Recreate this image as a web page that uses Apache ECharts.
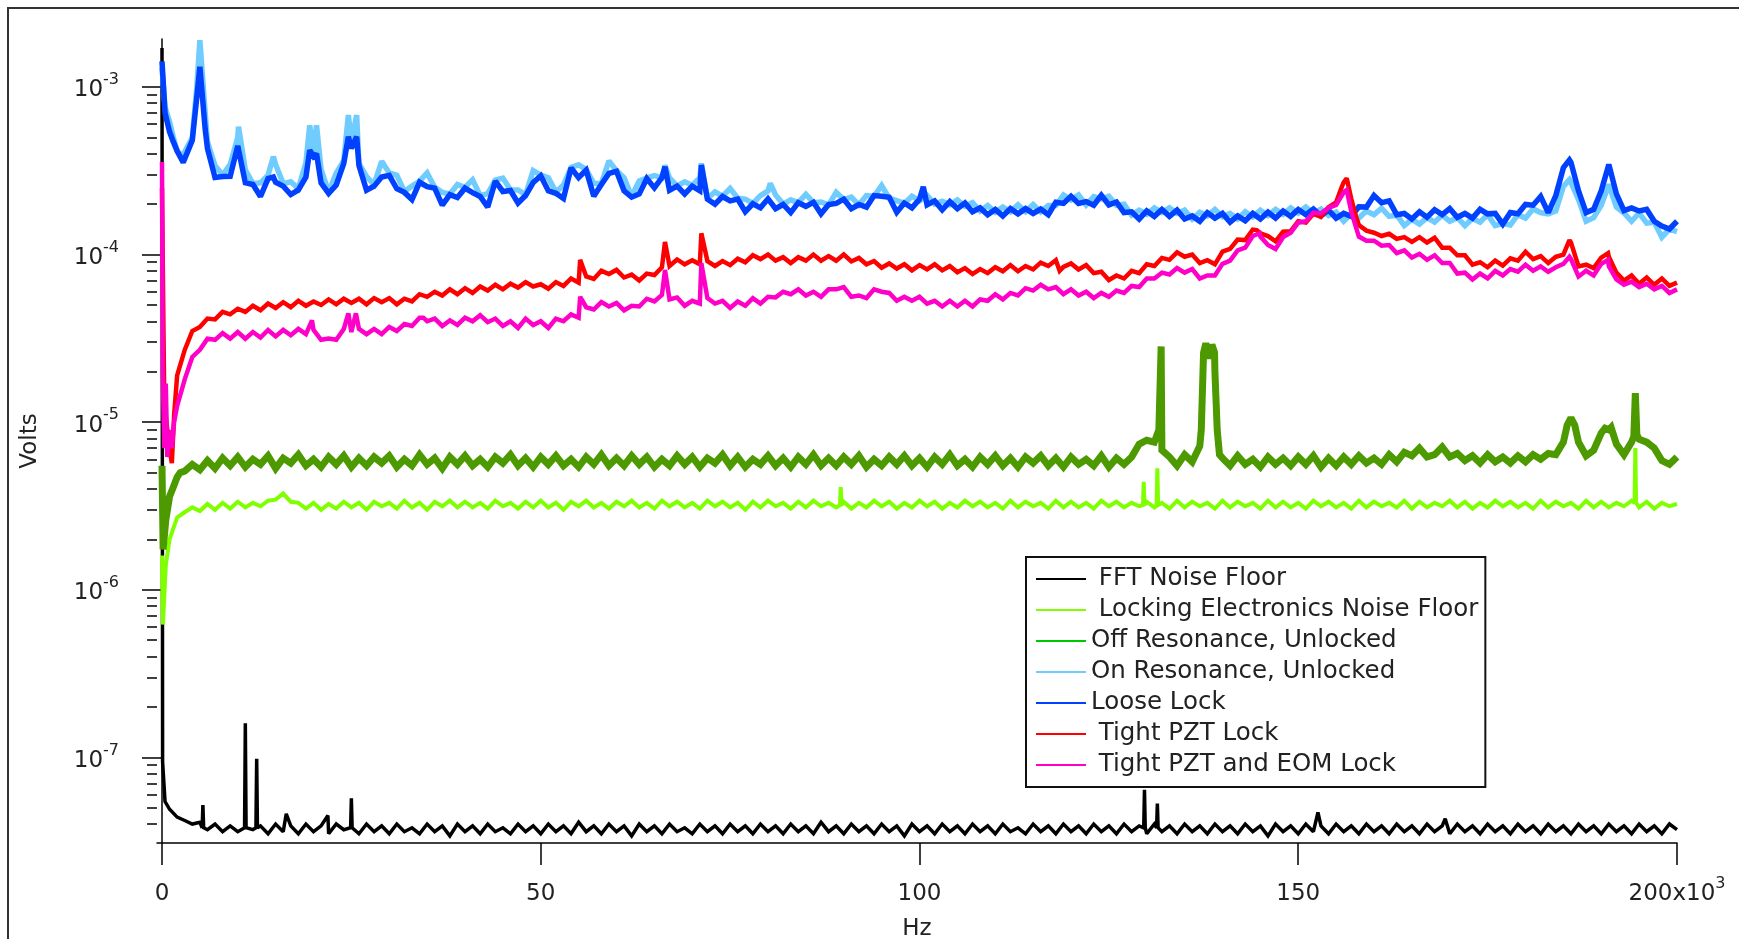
<!DOCTYPE html>
<html>
<head>
<meta charset="utf-8">
<title>Noise spectra</title>
<script src="https://cdn.jsdelivr.net/npm/echarts@6/dist/echarts.min.js"></script>
<style>
  html, body { margin: 0; padding: 0; background: #ffffff; }
  #chart { width: 1739px; height: 939px; }
</style>
</head>
<body>
<div id="chart"></div>
<script>
// Spectra are sampled every 1 kHz (index = kHz); amplitudes in microvolts.
// Narrow features between grid points are listed separately as [kHz, µV].
const GRID_STEP_KHZ = 1;

const traceNames = [
  'FFT Noise Floor',
  'Locking Electronics Noise Floor',
  'Off Resonance, Unlocked',
  'On Resonance, Unlocked',
  'Loose Lock',
  'Tight PZT Lock',
  'Tight PZT and EOM Lock'
];

const fftFloor = [
  1710,0.049,0.044,0.042,0.040,0.041,0.037,0.040,0.036,0.039,
  0.036,0.040,0.037,0.039,0.035,0.040,0.036,0.039,0.035,0.040,
  0.036,0.039,0.035,0.040,0.037,0.039,0.035,0.040,0.036,0.039,
  0.035,0.040,0.036,0.038,0.035,0.040,0.036,0.039,0.034,0.040,
  0.036,0.039,0.035,0.040,0.036,0.038,0.035,0.040,0.036,0.039,
  0.035,0.040,0.036,0.039,0.035,0.041,0.036,0.039,0.035,0.040,
  0.036,0.039,0.034,0.040,0.036,0.039,0.035,0.040,0.036,0.038,
  0.035,0.040,0.036,0.039,0.035,0.040,0.036,0.039,0.035,0.040,
  0.036,0.039,0.035,0.040,0.036,0.039,0.035,0.041,0.036,0.039,
  0.035,0.040,0.036,0.039,0.035,0.040,0.036,0.039,0.034,0.040,
  0.036,0.039,0.035,0.040,0.036,0.039,0.035,0.040,0.036,0.039,
  0.035,0.040,0.036,0.038,0.035,0.040,0.036,0.039,0.035,0.040,
  0.036,0.039,0.035,0.040,0.036,0.039,0.035,0.040,0.036,0.039,
  0.035,0.040,0.036,0.039,0.035,0.040,0.036,0.039,0.035,0.040,
  0.036,0.039,0.035,0.040,0.036,0.039,0.034,0.040,0.036,0.039,
  0.035,0.040,0.036,0.039,0.035,0.040,0.036,0.039,0.035,0.040,
  0.036,0.039,0.035,0.040,0.036,0.039,0.035,0.040,0.036,0.039,
  0.035,0.040,0.036,0.039,0.035,0.040,0.036,0.039,0.035,0.040,
  0.036,0.039,0.035,0.040,0.036,0.039,0.035,0.040,0.036,0.039,
  0.035,0.040,0.036,0.039,0.035,0.040,0.036,0.039,0.035,0.040,
  0.037
];
const fftFloorFine = [
  [0.08,0.094],[0.4,0.0545],[5.3,0.038],[5.4,0.052],[5.5,0.038],
  [10.9,0.038],[11,0.16],[11.1,0.038],[12.4,0.038],[12.5,0.098],[12.6,0.038],
  [16.4,0.046],[21.9,0.045],[24.9,0.038],[25,0.057],[25.1,0.038],
  [129.6,0.038],[129.7,0.064],[129.8,0.038],[131.3,0.038],[131.4,0.053],[131.5,0.038],
  [152.6,0.047],[169.4,0.043]
];

const electronicsFloor = [
  1.6,2.0,2.7,2.9,3.1,2.95,3.25,3.0,3.3,3.05,
  3.35,3.1,3.3,3.15,3.4,3.45,3.75,3.35,3.3,3.05,
  3.3,3.0,3.25,3.05,3.35,3.1,3.3,3.0,3.35,3.15,
  3.3,3.05,3.4,3.1,3.3,3.0,3.35,3.15,3.4,3.1,
  3.35,3.1,3.3,3.05,3.4,3.15,3.3,3.05,3.35,3.1,
  3.4,3.1,3.3,3.0,3.35,3.15,3.4,3.1,3.3,3.05,
  3.35,3.15,3.4,3.1,3.3,3.05,3.4,3.15,3.35,3.1,
  3.3,3.05,3.4,3.15,3.35,3.1,3.3,3.0,3.35,3.1,
  3.4,3.15,3.3,3.05,3.35,3.1,3.4,3.15,3.3,3.1,
  3.35,3.05,3.3,3.1,3.4,3.15,3.35,3.05,3.3,3.1,
  3.4,3.15,3.35,3.05,3.3,3.1,3.4,3.15,3.35,3.1,
  3.3,3.05,3.4,3.1,3.35,3.15,3.3,3.05,3.4,3.1,
  3.35,3.1,3.3,3.05,3.4,3.15,3.35,3.1,3.3,3.15,
  3.35,3.1,3.3,3.05,3.4,3.1,3.35,3.15,3.3,3.05,
  3.4,3.1,3.35,3.15,3.3,3.05,3.4,3.1,3.35,3.1,
  3.3,3.05,3.4,3.15,3.35,3.1,3.3,3.05,3.4,3.1,
  3.35,3.15,3.3,3.1,3.4,3.05,3.35,3.1,3.3,3.15,
  3.4,3.1,3.35,3.05,3.3,3.1,3.4,3.15,3.35,3.1,
  3.3,3.05,3.4,3.1,3.35,3.15,3.3,3.05,3.4,3.1,
  3.35,3.1,3.3,3.15,3.4,3.1,3.35,3.05,3.3,3.15,
  3.25
];
const electronicsFloorFine = [
  [0.12,0.62],[0.5,1.4],[89.5,3.2],[89.6,4.1],[89.7,3.2],
  [129.5,3.2],[129.6,4.4],[129.7,3.2],[131.3,3.2],[131.4,5.3],[131.5,3.2],
  [194.4,3.3],[194.5,7.0],[194.6,3.3]
];

const offResonance = [
  5.5,3.6,4.7,5.1,5.6,5.2,5.9,5.3,6.1,5.5,
  6.2,5.4,6.0,5.6,6.3,5.3,6.1,5.7,6.4,5.5,
  6.0,5.4,6.2,5.6,6.3,5.4,6.1,5.5,6.2,5.7,
  6.3,5.4,6.0,5.5,6.4,5.6,6.1,5.3,6.2,5.6,
  6.3,5.5,6.0,5.4,6.2,5.7,6.4,5.5,6.1,5.4,
  6.2,5.6,6.3,5.5,6.0,5.4,6.2,5.6,6.4,5.5,
  6.1,5.5,6.3,5.6,6.2,5.4,6.0,5.5,6.3,5.6,
  6.2,5.4,6.1,5.7,6.4,5.5,6.2,5.4,6.0,5.6,
  6.3,5.5,6.1,5.4,6.2,5.6,6.4,5.5,6.1,5.5,
  6.2,5.6,6.3,5.4,6.0,5.5,6.2,5.6,6.3,5.5,
  6.1,5.4,6.2,5.6,6.4,5.5,6.0,5.4,6.2,5.6,
  6.3,5.5,6.1,5.4,6.2,5.7,6.3,5.5,6.1,5.4,
  6.2,5.6,6.0,5.5,6.3,5.4,6.1,5.6,6.2,7.4,
  7.8,7.6,6.8,6.2,5.5,6.4,5.8,7.2,27,20,
  6.1,5.5,6.3,5.6,6.0,5.4,6.2,5.6,6.1,5.5,
  6.2,5.6,6.3,5.4,6.1,5.5,6.2,5.6,6.3,5.7,
  6.1,5.6,6.4,5.8,6.6,6.3,7.0,6.2,6.4,7.1,
  6.2,6.5,5.9,6.3,5.7,6.4,5.8,6.2,5.7,6.3,
  5.8,6.4,6.0,6.5,6.4,7.6,10.6,7.6,6.3,6.8,
  8.6,9.0,7.4,6.4,7.6,7.9,7.6,7.0,5.9,5.6,
  6.2
];
const offResonanceFine = [
  [0.15,1.74],[0.5,2.6],[1.5,4.1],[2.4,5.0],
  [131.6,9],[131.9,28.3],
  [137.2,9],[137.5,26],[137.8,29.5],[138.2,24],[138.6,29],[138.95,26],[139.3,9],[139.6,6.4],
  [185.5,9.6],[186.5,9.6],[190.5,9.2],[191.3,9.3],
  [194.3,8.2],[194.5,14.9],[194.7,8.4]
];

const onResonance = [
  1300,620,415,410,500,1900,470,340,298,345,
  500,320,265,268,298,345,265,272,248,354,
  405,322,236,306,365,470,350,292,262,360,
  307,297,238,256,274,307,252,235,230,262,
  252,279,225,231,278,286,244,243,228,317,
  298,287,236,260,331,343,322,266,265,362,
  317,287,223,275,286,296,288,287,257,272,
  259,287,216,237,223,248,217,214,202,225,
  240,227,200,212,204,229,204,206,198,235,
  213,220,198,225,223,258,217,210,202,223,
  209,225,200,208,198,212,194,204,182,196,
  179,192,180,198,180,199,180,196,196,227,
  212,227,198,222,215,223,197,200,172,184,
  174,190,178,190,176,184,163,179,170,186,
  168,176,163,180,168,184,171,186,174,190,
  177,192,176,187,171,179,158,175,165,182,
  173,189,169,172,149,162,152,166,156,172,
  158,166,149,164,156,173,149,153,150,173,
  165,187,178,175,182,255,270,213,158,166,
  197,262,192,177,158,177,154,156,127,142,
  137
];
const onResonanceFine = [
  [0.4,760],[1.5,500],[2.8,385],[4.6,1000],[5.7,700],[10.1,580],[14.7,384],
  [19.5,590],[20.4,590],[24.6,680],[25.7,680],[29.2,365],[66.4,340],[71.2,350],
  [80.3,266],[185.8,280],[191.2,265]
];

const looseLock = [
  1420,540,415,350,480,1320,430,288,292,293,
  445,268,262,222,284,270,256,228,243,290,
  385,268,232,260,350,430,340,242,256,290,
  297,247,235,213,270,254,249,197,228,219,
  249,234,222,192,274,238,241,203,225,269,
  295,240,232,216,329,288,319,223,262,305,
  314,240,220,230,284,250,288,242,256,230,
  256,240,214,200,222,209,214,180,201,190,
  215,188,199,178,204,194,205,175,199,202,
  214,188,199,192,225,223,220,179,203,190,
  214,198,209,185,207,188,203,180,190,173,
  186,170,188,175,188,176,187,173,205,202,
  223,202,207,197,226,198,206,178,180,163,
  182,169,186,169,184,163,170,158,178,165,
  176,156,170,159,176,163,179,165,182,169,
  186,173,187,170,184,165,176,169,193,192,
  225,204,209,173,176,163,180,167,185,173,
  188,167,176,165,186,175,176,152,178,175,
  199,197,222,178,225,330,355,240,178,186,
  240,345,230,183,190,182,186,158,148,142,
  158
];
const looseLockFine = [
  [0.4,700],[1.5,470],[2.8,355],[4.6,875],[5.7,560],[10.1,450],[14.7,290],
  [19.5,420],[20.4,400],[24.6,505],[25.7,505],[66.4,334],[71.2,342],
  [100.5,254],[185.8,367],[191.2,350]
];

const tightPzt = [
  250,7,19,27,35,37,41.5,41,45.5,44,
  47.5,45.5,49.5,46.5,51,48,52,48.5,53,49.5,
  52.5,50,54,50.5,54.5,51.5,54.5,50.5,55,52,
  55,50.5,54.5,52.5,58,56,60,57,62,58,
  63,59,64.5,61,66,62,67,63.5,68.5,64.5,
  66.5,62.5,68.5,65,72,68,74,71.5,80,76.5,
  81,73,76,70,77,75.5,84,85.5,93.5,87.5,
  92.5,87.5,91.5,85.5,91.5,86.5,94.5,90,99,94,
  100,92,96.5,89,96.5,92,100,92,98,92,
  100,91,95.5,87.5,91.5,83.5,88.5,82.5,87.5,80.5,
  86.5,81.5,87.5,80.5,85.5,78.5,83,76.5,82,77.5,
  84,79.5,86.5,79.5,85.5,81.5,89.5,85.5,92.5,84.5,
  88.5,81.5,86.5,77.5,79,70.5,75,72,80,77.5,
  87.5,85.5,95.5,93,103,97,100,89,92.5,87.5,
  104,108,123,122,141,134,129,120,137,138,
  158,155,175,168,192,205,270,215,150,139,
  135,129,133,124,127,119,127,118,126,110,
  110,99,99,87,90,84,92,86,95,92,
  104,94,98,89,97,100,118,85,87,83,
  96,97,78,70,75,67,73,66,72,65,
  68
];
const tightPztFine = [
  [0.3,13],[0.7,9],[1.3,5.7],[1.6,11],[55.2,93],[66.4,119],[71.2,134],
  [118.5,80],[144.5,140],[155.7,250],[156.4,285],[157.6,170],[185.8,122],[190.9,102]
];

const tightPztEom = [
  357,9,12.5,18,24.5,27,31.5,31,34,31.5,
  34.5,31.5,34.5,32,35.5,32.5,35.5,33,36,33.5,
  35.5,31,31.5,31,36,34.5,36,33.5,36,33.5,
  37,35,38.5,37.5,42,40,41.5,37.5,40.5,38,
  42,40,43.5,39.5,41.5,37.5,40,36.5,41.5,38,
  40,36.5,41.5,40,44,42,48.5,47,52,49,
  51.5,46.5,49.5,49,54.5,52.5,57.5,54,55.5,49.5,
  53,51,55,51,53,48,52.5,49.5,55,51,
  56,55.5,60,58,62,57,60,56,62,62,
  64,56,57,55,62,60,59,53,56,53,
  56,51,53,49,53,49,53,49,54,53,
  58,54,59,57,63,61,66,62,64,58,
  62,57,60,55,59,56,61,59,65,64,
  72,72,78,76,83,78,82,72,75,75,
  88,92,106,110,129,128,114,108,127,135,
  155,158,178,176,190,198,235,180,128,121,
  121,113,114,102,106,96,101,93,99,89,
  89,77,78,71,77,72,80,75,82,79,
  87,80,85,79,84,88,94,74,80,75,
  88,85,71,66,69,64,67,62,65,59,
  62
];
const tightPztEomFine = [
  [0.1,20],[0.3,7],[0.5,17],[0.7,6.2],[1.3,7],[1.6,10],
  [19.8,40.5],[24.6,44.6],[25.6,44.6],[34.5,42],[55.2,56],[66.4,81],[71.2,89],
  [144.9,134],[156.4,243],[185.8,97],[190.9,93]
];

// Axis ranges and ticks (Volts, Hz)
const Y_MIN = 3.083e-8;
const Y_MAX = 1.933e-3;
const X_MIN_HZ = -660;
const X_MAX_HZ = 200000;
const xTicksHz = [0, 50000, 100000, 150000, 200000];
const yMajorTicks = [1e-7, 1e-6, 1e-5, 1e-4, 1e-3];
const yMinorTicks = [
  4e-8, 5e-8, 6e-8, 7e-8, 8e-8, 9e-8,
  2e-7, 3e-7, 4e-7, 5e-7, 6e-7, 7e-7, 8e-7, 9e-7,
  2e-6, 3e-6, 4e-6, 5e-6, 6e-6, 7e-6, 8e-6, 9e-6,
  2e-5, 3e-5, 4e-5, 5e-5, 6e-5, 7e-5, 8e-5, 9e-5,
  2e-4, 3e-4, 4e-4, 5e-4, 6e-4, 7e-4, 8e-4, 9e-4
];

const traceGrids = [fftFloor, electronicsFloor, offResonance, onResonance, looseLock, tightPzt, tightPztEom];
const traceFine = [fftFloorFine, electronicsFloorFine, offResonanceFine, onResonanceFine, looseLockFine, tightPztFine, tightPztEomFine];
const traceColors = ['#000000', '#80ff00', '#4c9a00', '#70ccff', '#0040ff', '#ff0000', '#ff00c8'];
const legendColors = ['#000000', '#80ff00', '#00c800', '#70ccff', '#0040ff', '#ff0000', '#ff00c8'];
// Wide strokes give the dense, noisy traces their band-like thickness.
const traceWidths = [3.5, 4, 7, 5.5, 5.5, 4.5, 4.5];
const legendIndented = [true, true, false, false, false, true, true];

const FONT = 'DejaVu Sans';
const TEXT_COLOR = '#222';

function buildTrace(grid, fine) {
  const pts = new Map();
  grid.forEach((uv, i) => pts.set(i * GRID_STEP_KHZ, uv));
  fine.forEach(([khz, uv]) => pts.set(khz, uv));
  return Array.from(pts.entries())
    .sort((a, b) => a[0] - b[0])
    .map(([khz, uv]) => [khz * 1000, uv * 1e-6]);
}

const chart = echarts.init(document.getElementById('chart'), null, { renderer: 'canvas' });

const series = traceNames.map((name, i) => ({
  name,
  type: 'line',
  data: buildTrace(traceGrids[i], traceFine[i]),
  showSymbol: false,
  symbol: 'none',
  color: traceColors[i],
  lineStyle: { color: traceColors[i], width: traceWidths[i], join: 'miter', miterLimit: 2 },
  emphasis: { disabled: true },
  silent: true,
  animation: false,
  z: 2 + i
}));

const supRich = {
  b: { fontFamily: FONT, fontSize: 23, color: TEXT_COLOR, lineHeight: 30, verticalAlign: 'bottom' },
  s: { fontFamily: FONT, fontSize: 16, color: TEXT_COLOR, lineHeight: 18, verticalAlign: 'top' }
};

chart.setOption({
  animation: false,
  backgroundColor: '#ffffff',
  grid: { left: 157, right: 62, top: 39, bottom: 96, containLabel: false, outerBoundsMode: 'none' },
  xAxis: {
    type: 'value',
    min: X_MIN_HZ,
    max: X_MAX_HZ,
    name: 'Hz',
    nameLocation: 'middle',
    nameGap: 75,
    nameTextStyle: { fontFamily: FONT, fontSize: 23, color: TEXT_COLOR },
    axisLine: { show: true, onZero: false, lineStyle: { color: '#000', width: 1.5 } },
    axisTick: { show: true, customValues: xTicksHz, length: 22, lineStyle: { color: '#000', width: 1.5 } },
    axisLabel: {
      customValues: xTicksHz,
      margin: 33,
      formatter: v => v === X_MAX_HZ ? '{b|' + (v / 1000) + 'x10}{s|3}' : '{b|' + (v / 1000) + '}',
      rich: supRich
    },
    splitLine: { show: false }
  },
  yAxis: [
    {
      type: 'log',
      min: Y_MIN,
      max: Y_MAX,
      name: 'Volts',
      nameLocation: 'middle',
      nameGap: 115,
      nameRotate: 90,
      nameTextStyle: { fontFamily: FONT, fontSize: 23, color: TEXT_COLOR },
      axisLine: { show: true, lineStyle: { color: '#000', width: 1.5 } },
      axisTick: { show: true, customValues: yMajorTicks, length: 20, lineStyle: { color: '#000', width: 1.5 } },
      axisLabel: {
        customValues: yMajorTicks,
        margin: 38,
        formatter: v => '{b|10}{s|' + Math.round(Math.log10(v)) + '}',
        rich: supRich
      },
      splitLine: { show: false },
      minorTick: { show: false }
    },
    {
      type: 'log',
      min: Y_MIN,
      max: Y_MAX,
      position: 'left',
      axisLine: { show: false },
      axisTick: { show: true, customValues: yMinorTicks, length: 10, lineStyle: { color: '#000', width: 1.5 } },
      axisLabel: { show: false },
      splitLine: { show: false }
    }
  ],
  legend: {
    orient: 'vertical',
    left: 1026,
    top: 557,
    padding: [9, 7, 9, 10],
    itemGap: 5,
    itemWidth: 50,
    itemHeight: 2,
    icon: 'rect',
    selectedMode: false,
    backgroundColor: '#ffffff',
    borderColor: '#111',
    borderWidth: 2,
    borderRadius: 0,
    textStyle: { fontFamily: FONT, fontSize: 24.5, color: TEXT_COLOR, lineHeight: 26 },
    formatter: name => (legendIndented[traceNames.indexOf(name)] ? ' ' : '') + name,
    data: traceNames.map((name, i) => ({ name, itemStyle: { color: legendColors[i] } }))
  },
  graphic: [
    {
      type: 'rect',
      silent: true,
      z: 100,
      shape: { x: 8, y: 8, width: 1800, height: 1000 },
      style: { fill: 'none', stroke: '#333', lineWidth: 2 }
    }
  ],
  series
});
</script>
</body>
</html>
